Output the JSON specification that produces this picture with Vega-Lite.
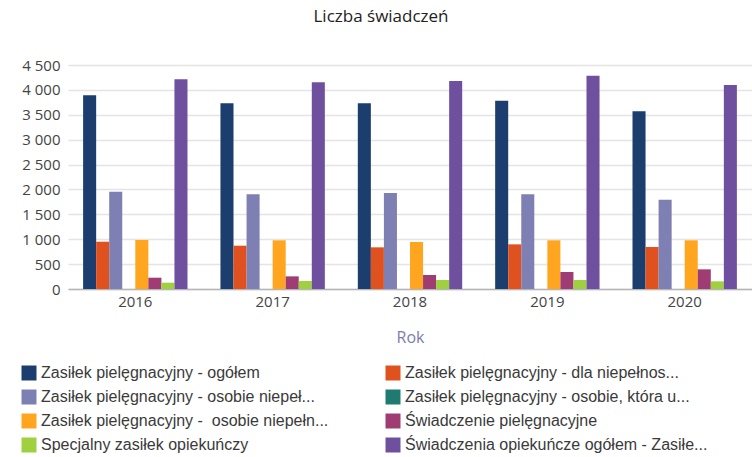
{
  "$schema": "https://vega.github.io/schema/vega-lite/v6.json",
  "width": 684,
  "height": 224,
  "padding": {"left": 0, "top": 8, "right": 0, "bottom": 0},
  "background": "white",
  "title": {"text": "Liczba świadczeń", "font": "Open Sans", "fontSize": 17, "fontWeight": "normal", "color": "#222222", "anchor": "middle", "frame": "bounds", "offset": 32, "dx": 5},
  "data": {"values": [
    {"year": "2016", "series": "Zasiłek pielęgnacyjny - ogółem", "value": 3890},
    {"year": "2016", "series": "Zasiłek pielęgnacyjny - dla niepełnos...", "value": 950},
    {"year": "2016", "series": "Zasiłek pielęgnacyjny - osobie niepeł...", "value": 1955},
    {"year": "2016", "series": "Zasiłek pielęgnacyjny - osobie, która u...", "value": 0},
    {"year": "2016", "series": "Zasiłek pielęgnacyjny - \u00a0osobie niepełn...", "value": 985},
    {"year": "2016", "series": "Świadczenie pielęgnacyjne", "value": 227},
    {"year": "2016", "series": "Specjalny zasiłek opiekuńczy", "value": 127},
    {"year": "2016", "series": "Świadczenia opiekuńcze ogółem - Zasiłe...", "value": 4212},
    {"year": "2017", "series": "Zasiłek pielęgnacyjny - ogółem", "value": 3730},
    {"year": "2017", "series": "Zasiłek pielęgnacyjny - dla niepełnos...", "value": 870},
    {"year": "2017", "series": "Zasiłek pielęgnacyjny - osobie niepeł...", "value": 1902},
    {"year": "2017", "series": "Zasiłek pielęgnacyjny - osobie, która u...", "value": 0},
    {"year": "2017", "series": "Zasiłek pielęgnacyjny - \u00a0osobie niepełn...", "value": 978},
    {"year": "2017", "series": "Świadczenie pielęgnacyjne", "value": 254},
    {"year": "2017", "series": "Specjalny zasiłek opiekuńczy", "value": 161},
    {"year": "2017", "series": "Świadczenia opiekuńcze ogółem - Zasiłe...", "value": 4152},
    {"year": "2018", "series": "Zasiłek pielęgnacyjny - ogółem", "value": 3730},
    {"year": "2018", "series": "Zasiłek pielęgnacyjny - dla niepełnos...", "value": 837},
    {"year": "2018", "series": "Zasiłek pielęgnacyjny - osobie niepeł...", "value": 1929},
    {"year": "2018", "series": "Zasiłek pielęgnacyjny - osobie, która u...", "value": 0},
    {"year": "2018", "series": "Zasiłek pielęgnacyjny - \u00a0osobie niepełn...", "value": 944},
    {"year": "2018", "series": "Świadczenie pielęgnacyjne", "value": 281},
    {"year": "2018", "series": "Specjalny zasiłek opiekuńczy", "value": 181},
    {"year": "2018", "series": "Świadczenia opiekuńcze ogółem - Zasiłe...", "value": 4179},
    {"year": "2019", "series": "Zasiłek pielęgnacyjny - ogółem", "value": 3783},
    {"year": "2019", "series": "Zasiłek pielęgnacyjny - dla niepełnos...", "value": 897},
    {"year": "2019", "series": "Zasiłek pielęgnacyjny - osobie niepeł...", "value": 1902},
    {"year": "2019", "series": "Zasiłek pielęgnacyjny - osobie, która u...", "value": 0},
    {"year": "2019", "series": "Zasiłek pielęgnacyjny - \u00a0osobie niepełn...", "value": 978},
    {"year": "2019", "series": "Świadczenie pielęgnacyjne", "value": 341},
    {"year": "2019", "series": "Specjalny zasiłek opiekuńczy", "value": 181},
    {"year": "2019", "series": "Świadczenia opiekuńcze ogółem - Zasiłe...", "value": 4286},
    {"year": "2020", "series": "Zasiłek pielęgnacyjny - ogółem", "value": 3569},
    {"year": "2020", "series": "Zasiłek pielęgnacyjny - dla niepełnos...", "value": 844},
    {"year": "2020", "series": "Zasiłek pielęgnacyjny - osobie niepeł...", "value": 1795},
    {"year": "2020", "series": "Zasiłek pielęgnacyjny - osobie, która u...", "value": 0},
    {"year": "2020", "series": "Zasiłek pielęgnacyjny - \u00a0osobie niepełn...", "value": 978},
    {"year": "2020", "series": "Świadczenie pielęgnacyjne", "value": 395},
    {"year": "2020", "series": "Specjalny zasiłek opiekuńczy", "value": 154},
    {"year": "2020", "series": "Świadczenia opiekuńcze ogółem - Zasiłe...", "value": 4098}
  ]},
  "mark": {"type": "bar"},
  "encoding": {
    "x": {"field": "year", "type": "nominal", "title": "Rok",
      "scale": {"paddingInner": 0.24, "paddingOuter": 0.11},
      "axis": {"labelAngle": 0, "labelFont": "Open Sans", "labelFontSize": 15, "labelColor": "#444444", "labelPadding": 5, "ticks": false, "domainColor": "#b5b5b5", "domainWidth": 1.5, "titleFont": "Open Sans", "titleFontSize": 16, "titleFontWeight": "normal", "titleColor": "#7c7cae", "titlePadding": 20}},
    "xOffset": {"field": "series", "type": "nominal", "sort": [
      "Zasiłek pielęgnacyjny - ogółem",
      "Zasiłek pielęgnacyjny - dla niepełnos...",
      "Zasiłek pielęgnacyjny - osobie niepeł...",
      "Zasiłek pielęgnacyjny - osobie, która u...",
      "Zasiłek pielęgnacyjny - \u00a0osobie niepełn...",
      "Świadczenie pielęgnacyjne",
      "Specjalny zasiłek opiekuńczy",
      "Świadczenia opiekuńcze ogółem - Zasiłe..."
    ], "scale": {"paddingInner": 0, "paddingOuter": 0}},
    "y": {"field": "value", "type": "quantitative", "title": null,
      "scale": {"domain": [0, 4500], "nice": false},
      "axis": {"values": [0, 500, 1000, 1500, 2000, 2500, 3000, 3500, 4000, 4500], "labelExpr": "replace(format(datum.value, ','), ',', ' ')", "labelFont": "Open Sans", "labelFontSize": 15, "labelColor": "#444444", "ticks": false, "domain": false, "gridColor": "#e4e4e4", "gridWidth": 1.5, "labelPadding": 8, "minExtent": 68, "maxExtent": 68}},
    "color": {"field": "series", "type": "nominal",
      "scale": {"domain": [
        "Zasiłek pielęgnacyjny - ogółem",
        "Zasiłek pielęgnacyjny - dla niepełnos...",
        "Zasiłek pielęgnacyjny - osobie niepeł...",
        "Zasiłek pielęgnacyjny - osobie, która u...",
        "Zasiłek pielęgnacyjny - \u00a0osobie niepełn...",
        "Świadczenie pielęgnacyjne",
        "Specjalny zasiłek opiekuńczy",
        "Świadczenia opiekuńcze ogółem - Zasiłe..."
      ], "range": ["#1b3e6f", "#df521f", "#7e80b3", "#1f7a70", "#ffa51f", "#9e3c73", "#9fd040", "#6f509f"]},
      "legend": {"title": null, "orient": "none", "legendX": -47, "legendY": 300, "columns": 2, "direction": "horizontal", "symbolType": "square", "symbolSize": 225, "symbolStrokeWidth": 0, "labelFont": "Liberation Sans", "labelFontSize": 16, "labelColor": "#3a3a3a", "labelOffset": 4, "labelLimit": 400, "rowPadding": 8, "columnPadding": 56, "symbolOffset": 0}}
  },
  "config": {"view": {"stroke": null}}
}
